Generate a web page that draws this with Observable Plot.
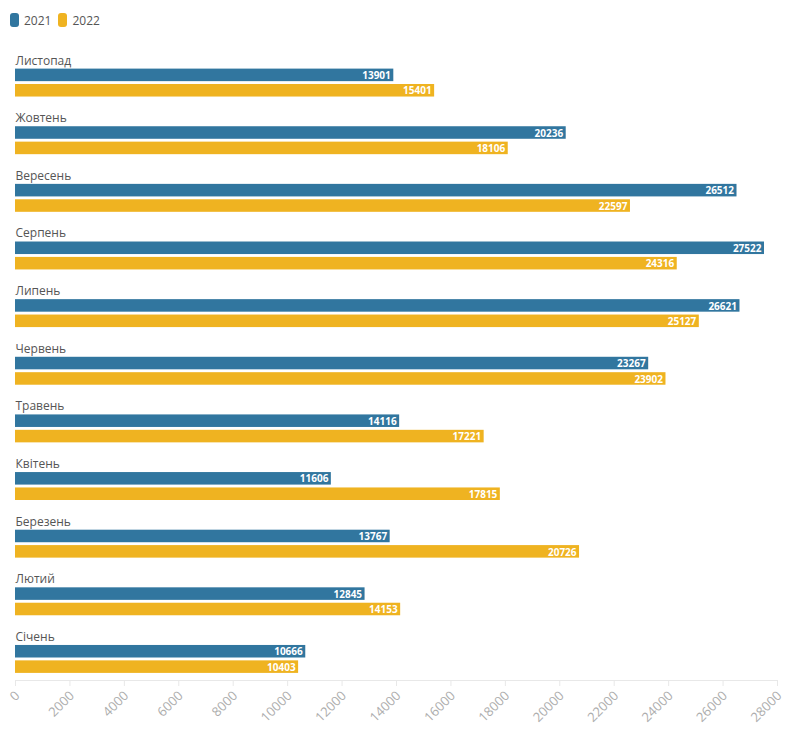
<!DOCTYPE html>
<html>
<head>
<meta charset="utf-8">
<script src="https://cdn.jsdelivr.net/npm/d3@7"></script>
<script src="https://cdn.jsdelivr.net/npm/@observablehq/plot@0.6"></script>
<style>
  body { margin: 0; background: #fff; font-family: "Open Sans", sans-serif; overflow: hidden; }
  #legend { height: 40px; display: flex; align-items: center; padding-left: 10px; font-size: 12px; color: #555; }
  .sw { display: inline-flex; align-items: center; margin-right: 7px; }
  .sw i { display: inline-block; width: 9px; height: 14px; border-radius: 3px; margin-right: 5px; }
  #chart svg { display: block; }
</style>
</head>
<body>
<div id="legend"></div>
<div id="chart"></div>
<script>
const months = ["Листопад","Жовтень","Вересень","Серпень","Липень","Червень","Травень","Квітень","Березень","Лютий","Січень"];
const v2021 = [13901,20236,26512,27522,26621,23267,14116,11606,13767,12845,10666];
const v2022 = [15401,18106,22597,24316,25127,23902,17221,17815,20726,14153,10403];
const years = ["2021","2022"];
const colors = ["#31769f","#efb321"];
const xTicks = [0,2000,4000,6000,8000,10000,12000,14000,16000,18000,20000,22000,24000,26000,28000];

const rows2021 = months.map((m, i) => ({month: m, year: "2021", value: v2021[i]}));
const rows2022 = months.map((m, i) => ({month: m, year: "2022", value: v2022[i]}));

const legend = document.getElementById("legend");
years.forEach((y, i) => {
  const s = document.createElement("span");
  s.className = "sw";
  s.innerHTML = `<i style="background:${colors[i]}"></i>${y}`;
  legend.appendChild(s);
});

const valueText = {x: "value", y: "month", text: d => String(d.value), textAnchor: "end", dx: -3, fill: "white", fontWeight: "bold", fontSize: 10};

const chart = Plot.plot({
  width: 796,
  height: 694,
  marginTop: 6,
  marginBottom: 54,
  marginLeft: 15,
  marginRight: 19,
  style: {fontFamily: "Open Sans, sans-serif", fontSize: "11px", background: "#fff"},
  x: {domain: [0, 28000], label: null},
  y: {domain: months, padding: 0, round: false, axis: null},
  color: {domain: years, range: colors},
  marks: [
    Plot.frame({anchor: "bottom", stroke: "#e8e8e8"}),
    Plot.axisX({ticks: xTicks, tickFormat: () => "", tickSize: 6, stroke: "#e8e8e8", label: null}),
    Plot.text(xTicks, {x: d => d, text: d => String(d), frameAnchor: "bottom", rotate: -45, textAnchor: "end", dx: 5, dy: 16, fill: "#adadad", fontSize: 13}),
    Plot.barX(rows2021, {x: "value", y: "month", fill: "year", insetTop: 22.6, insetBottom: 22.5}),
    Plot.barX(rows2022, {x: "value", y: "month", fill: "year", insetTop: 38.0, insetBottom: 7.1}),
    Plot.text(rows2021, {...valueText, dy: 0.5}),
    Plot.text(rows2022, {...valueText, dy: 15.9}),
    Plot.text(months, {x: () => 0, y: d => d, text: d => d, textAnchor: "start", dy: -14.6, fill: "#555", fontSize: 12})
  ]
});
document.getElementById("chart").appendChild(chart);
</script>
</body>
</html>
